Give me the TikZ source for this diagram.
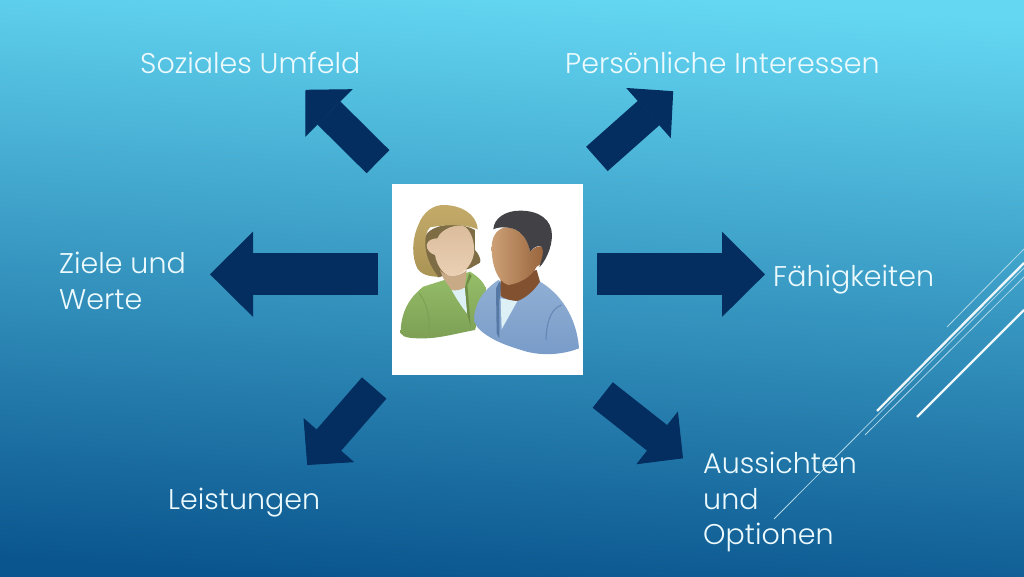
\documentclass[tikz,border=0pt]{standalone}
\usepackage{fontspec}
\setmainfont{Poppins Light}
\usetikzlibrary{arrows.meta}
\definecolor{arrowcol}{RGB}{4,46,96}
\definecolor{labelcol}{RGB}{236,250,254}
\definecolor{skytop}{RGB}{100,216,243}
\definecolor{skymid}{RGB}{57,152,198}
\definecolor{skybot}{RGB}{10,85,142}
\definecolor{greenlight}{RGB}{150,190,105}
\definecolor{greendark}{RGB}{125,160,85}
\definecolor{greenfold}{RGB}{110,140,70}
\definecolor{hairback}{RGB}{125,108,68}
\definecolor{hairlight}{RGB}{195,170,105}
\definecolor{hairmid}{RGB}{170,148,85}
\definecolor{skinlight}{RGB}{218,188,155}
\definecolor{skinpale}{RGB}{235,208,180}
\definecolor{skinneck}{RGB}{200,170,135}
\definecolor{shirt}{RGB}{220,240,245}
\definecolor{bluelight}{RGB}{145,175,212}
\definecolor{bluedark}{RGB}{120,155,200}
\definecolor{bluefold}{RGB}{85,120,165}
\definecolor{brownneck}{RGB}{130,82,48}
\definecolor{brownlight}{RGB}{205,160,118}
\definecolor{browndark}{RGB}{150,98,58}
\definecolor{hairdark}{RGB}{65,65,70}
\tikzset{label text/.style={anchor=base west,inner sep=0pt,text=labelcol,align=left,font=\fontsize{28.5}{35.5}\selectfont}}
\tikzset{straight arrow/.style={draw=arrowcol,line width=42pt,-{Triangle[length=43pt,width=85pt,line width=1pt]}}}
\tikzset{slant arrow/.style={draw=arrowcol,line width=32.5pt,-{Triangle[length=33pt,width=67pt,line width=1pt]}}}
\tikzset{thin stripe/.style={draw=white!60!skymid,line width=0.8pt}}
\tikzset{thick stripe/.style={draw=white!92!skymid,line width=2.4pt}}
\begin{document}
\begin{tikzpicture}[x=1pt,y=-1pt]
                \useasboundingbox (0,0) rectangle (1024,576);
                \shade[top color=skytop,middle color=skymid,bottom color=skybot,shading angle=-3.5] (0,0) rectangle (1024,576);

                \draw[thin stripe] (774,519) -- (1024,268);
                \draw[thin stripe] (865,435) -- (1024,277);
                \draw[thin stripe] (947,327) -- (1024,249);
                \draw[thick stripe] (877,411) -- (1024,263);
                \draw[thick stripe] (917,417) -- (1024,310);

                \node[fill=white,minimum size=191pt,inner sep=0pt] (photo) at (487.5,279.5) {};

                \node[label text] (sozial) at (140,73) {Soziales Umfeld};
                \node[label text] (interessen) at (565,73) {Persönliche Interessen};
                \node[label text,anchor=north west] (ziele) at (59,252) {Ziele und\\Werte};
                \node[label text] (faehig) at (773,286) {Fähigkeiten};
                \node[label text] (leistung) at (168,509) {Leistungen};
                \node[label text,anchor=north west] (aussicht) at (703,452) {Aussichten\\und\\Optionen};

                \coordinate (a1) at (378,161.7);
                \coordinate (a2) at (305.5,89.8);
                \coordinate (b1) at (596.9,158.9);
                \coordinate (b2) at (673.2,91.2);
                \coordinate (c1) at (378,274.3);
                \coordinate (c2) at (210,274.3);
                \coordinate (d1) at (597,274.3);
                \coordinate (d2) at (765,274.3);
                \coordinate (e1) at (374.2,388);
                \coordinate (e2) at (307.2,465);
                \coordinate (f1) at (602.7,395);
                \coordinate (f2) at (683,458.3);

                \draw[slant arrow] (a1) -- (a2);
                \draw[slant arrow] (b1) -- (b2);
                \draw[straight arrow] (c1) -- (c2);
                \draw[straight arrow] (d1) -- (d2);
                \draw[slant arrow] (e1) -- (e2);
                \draw[slant arrow] (f1) -- (f2);

                \begin{scope}[shift={(380,170)},x=0.3333pt,y=-0.3333pt]
                \shade[top color=greenlight,bottom color=greendark] (62,490) .. controls (62,430) and (85,385) .. (130,350) -- (250,312) -- (270,305) .. controls (295,320) and (315,340) .. (318,360) -- (285,480) .. controls (230,490) and (180,505) .. (130,505) .. controls (100,505) and (70,505) .. (62,490) -- cycle;
                \fill[shirt] (215,360) -- (255,352) -- (262,432) .. controls (245,410) and (228,385) .. (215,360) -- cycle;
                \fill[greenfold] (255,352) -- (268,310) -- (275,318) -- (262,345) -- (272,470) -- (262,432) -- cycle;
                \draw[greendark,line width=1pt] (118,370) .. controls (140,400) and (150,440) .. (148,490);
                \fill[hairback] (135,200) .. controls (150,165) and (230,150) .. (285,180) -- (285,240) .. controls (295,250) and (305,270) .. (300,278) -- (270,295) -- (175,322) -- (135,300) -- cycle;
                \shade[top color=hairlight,bottom color=hairmid] (190,105) .. controls (240,105) and (290,130) .. (293,178) .. controls (250,160) and (190,165) .. (150,172) .. controls (130,190) and (125,260) .. (175,320) .. controls (150,320) and (125,315) .. (112,295) .. controls (95,260) and (95,210) .. (115,165) .. controls (130,125) and (160,105) .. (190,105) -- cycle;
                \fill[skinneck] (180,300) .. controls (195,320) and (235,325) .. (260,300) -- (255,352) .. controls (240,362) and (225,362) .. (215,360) -- (190,325) -- cycle;
                \shade[top color=skinlight,bottom color=skinpale] (140,225) .. controls (142,210) and (160,205) .. (172,205) .. controls (185,175) and (230,160) .. (255,170) .. controls (275,185) and (285,220) .. (282,250) .. controls (275,290) and (245,318) .. (215,318) .. controls (190,318) and (170,285) .. (165,255) .. controls (150,250) and (140,240) .. (140,225) -- cycle;

                \shade[top color=bluelight,bottom color=bluedark] (283,445) .. controls (285,400) and (305,365) .. (355,330) -- (400,360) -- (480,335) .. controls (540,370) and (590,440) .. (597,535) .. controls (560,550) and (500,560) .. (440,545) .. controls (390,530) and (340,515) .. (300,480) .. controls (290,470) and (283,460) .. (283,445) -- cycle;
                \fill[bluefold] (348,355) -- (358,335) -- (364,345) -- (358,395) -- (358,505) -- (350,490) -- cycle;
                \draw[bluefold!60!bluedark,line width=1pt] (545,405) .. controls (515,415) and (500,450) .. (498,510);
                \fill[shirt] (362,385) -- (412,393) .. controls (395,425) and (380,450) .. (365,478) -- cycle;
                \fill[brownneck] (362,325) -- (470,300) -- (480,335) .. controls (460,365) and (435,385) .. (412,393) .. controls (395,392) and (375,388) .. (362,378) -- cycle;
                \shade[left color=brownlight,right color=browndark] (335,235) .. controls (335,205) and (345,180) .. (375,172) .. controls (410,170) and (445,200) .. (450,245) .. controls (455,240) and (480,215) .. (497,240) .. controls (495,265) and (485,285) .. (470,290) .. controls (455,320) and (420,340) .. (385,345) .. controls (350,335) and (335,280) .. (335,235) -- cycle;
                \fill[hairdark] (340,178) .. controls (342,145) and (375,122) .. (420,122) .. controls (480,122) and (515,150) .. (516,195) .. controls (516,235) and (495,275) .. (478,292) .. controls (485,265) and (495,245) .. (485,230) .. controls (475,222) and (458,235) .. (450,245) .. controls (445,215) and (430,190) .. (405,178) .. controls (385,170) and (355,170) .. (340,178) -- cycle;
                \end{scope}
            \end{tikzpicture}
\end{document}
